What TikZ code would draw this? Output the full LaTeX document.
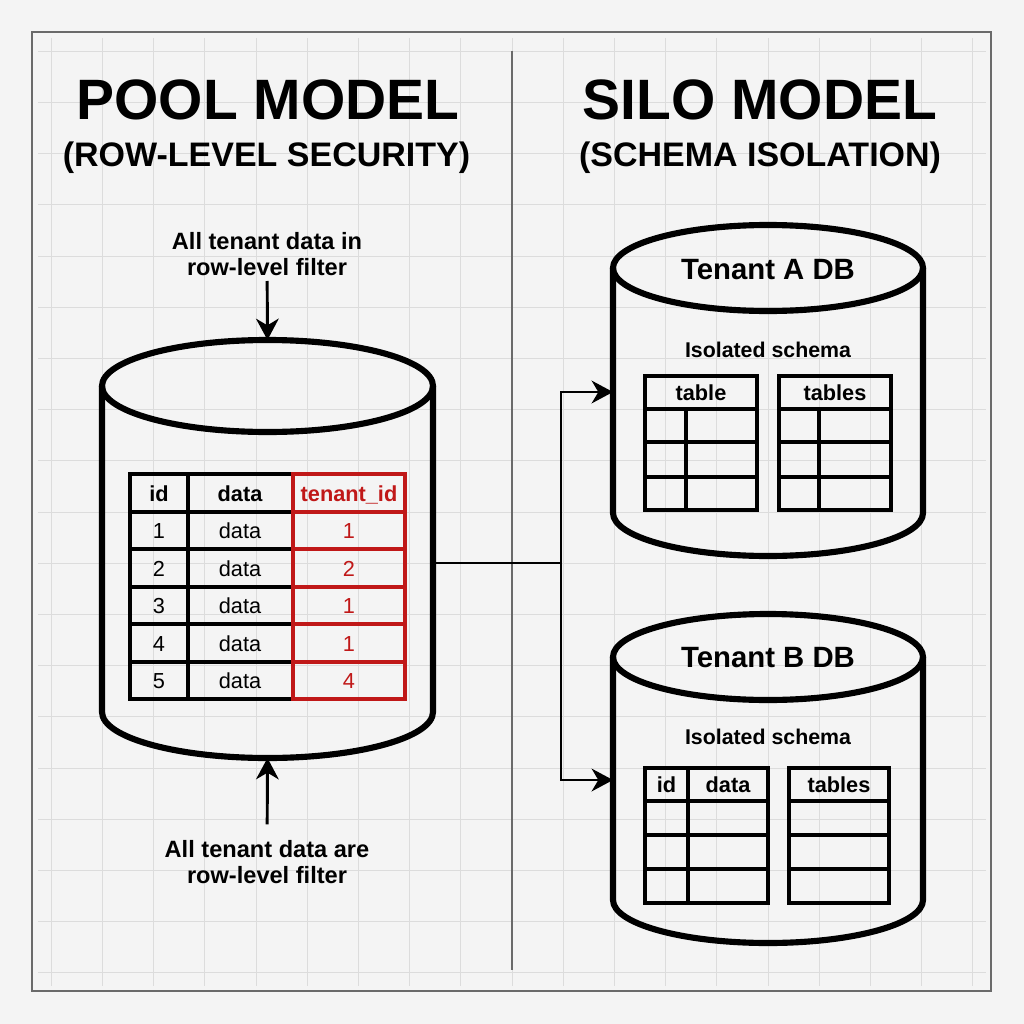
\documentclass[tikz,border=0pt]{standalone}
\usepackage{fontspec}
\setmainfont{Liberation Sans}
\usetikzlibrary{arrows.meta}

\definecolor{paper}{HTML}{F4F4F4}
\definecolor{gridgray}{HTML}{DCDCDC}
\definecolor{framegray}{HTML}{6A6A6A}
\definecolor{tidred}{HTML}{C01818}

\begin{document}
\begin{tikzpicture}[x=0.75pt,y=0.75pt,yscale=-1,xscale=1,
  gridline/.style={draw=gridgray,line width=0.7pt},
  can/.style={line width=4.6pt,line join=round},
  tbl/.style={line width=2.3pt},
  tblb/.style={line width=2.6pt},
  link/.style={line width=2.2pt},
  tip/.style={-{Stealth[length=16pt,width=17pt,inset=5pt]}},
  txt/.style={inner sep=0pt,outer sep=0pt},
  title/.style={txt,anchor=base,font=\fontsize{42.7}{50}\selectfont\bfseries},
  subtitle/.style={txt,anchor=base,font=\fontsize{25.5}{30}\selectfont\bfseries},
  note/.style={txt,align=center,font=\fontsize{17.7}{19.5}\selectfont\bfseries},
  dbname/.style={txt,font=\fontsize{22}{26}\selectfont\bfseries},
  schema/.style={txt,font=\fontsize{16}{19}\selectfont\bfseries},
  hdr/.style={txt,anchor=base,font=\fontsize{16.3}{19}\selectfont\bfseries},
  cell/.style={txt,anchor=base,font=\fontsize{16.3}{19}\selectfont}
]
%set diagram page to 1024 x 1024
\useasboundingbox[fill=paper] (0,0) rectangle (1024,1024);

%Grid
\foreach \g in {1,...,19} {
  \draw[gridline] (\g*51.2,38) -- (\g*51.2,986);
  \draw[gridline] (38,\g*51.2) -- (986,\g*51.2);
}
%Frame and divider
\draw[framegray,line width=1.2pt] (32,32) rectangle (991,991);
\draw[framegray,line width=1.5pt] (512,51) -- (512,970);

% Text Node
\node[title] (pool-title) at (268,119) {POOL MODEL};
\node[subtitle] (pool-sub) at (266.5,166) {(ROW-LEVEL SECURITY)};
\node[title] (silo-title) at (760,119) {SILO MODEL};
\node[subtitle] (silo-sub) at (760,166) {(SCHEMA ISOLATION)};

%Shape: Can [pool]
\draw[can] (267.5,386) ellipse [x radius=165.5,y radius=46];
\draw[can] (102,386) -- (102,712) arc [start angle=180,end angle=0,x radius=165.5,y radius=46] -- (433,386);
\coordinate (pool-n) at (267.5,340);
\coordinate (pool-s) at (267.5,758);
\coordinate (pool-e) at (433,563);

%Shape: Can [tenant A]
\draw[can] (768,268) ellipse [x radius=155,y radius=43];
\draw[can] (613,268) -- (613,513) arc [start angle=180,end angle=0,x radius=155,y radius=43] -- (923,268);
\coordinate (tena-w) at (613,392);

%Shape: Can [tenant B]
\draw[can] (768,657) ellipse [x radius=155,y radius=43];
\draw[can] (613,657) -- (613,900) arc [start angle=180,end angle=0,x radius=155,y radius=43] -- (923,657);
\coordinate (tenb-w) at (613,780);

%Pool table
\draw[tbl] (130,474) rectangle (293,699);
\draw[tbl] (188,474) -- (188,699);
\foreach \y in {512,549,587,624,662} \draw[tbl] (130,\y) -- (293,\y);
\draw[tbl,tidred] (293,474) rectangle (405,699);
\foreach \y in {512,549,587,624,662} \draw[tbl,tidred] (293,\y) -- (405,\y);
\node[hdr] (h-id) at (159,501) {id};
\node[hdr] (h-data) at (240,501) {data};
\node[hdr,text=tidred] (h-tid) at (349,501) {tenant\_id};
\foreach \n/\t [count=\k] in {1/1,2/2,3/1,4/1,5/4} {
  \node[cell] (c\k-id) at (159,501+37.5*\k) {\n};
  \node[cell] (c\k-data) at (240,501+37.5*\k) {data};
  \node[cell,text=tidred] (c\k-tid) at (349,501+37.5*\k) {\t};
}

%Tenant A tables
\node[dbname] (tena-name) at (768,270) {Tenant A DB};
\node[schema] (tena-schema) at (768,350) {Isolated schema};
\draw[tblb] (645,376) rectangle (757,510);
\draw[tblb] (779,376) rectangle (891,510);
\foreach \y in {409,442,477} {
  \draw[tblb] (645,\y) -- (757,\y);
  \draw[tblb] (779,\y) -- (891,\y);
}
\draw[tblb] (686,409) -- (686,510);
\draw[tblb] (819,409) -- (819,510);
\node[hdr] (tena-t1) at (701,400.5) {table};
\node[hdr] (tena-t2) at (835,400.5) {tables};

%Tenant B tables
\node[dbname] (tenb-name) at (768,658) {Tenant B DB};
\node[schema] (tenb-schema) at (768,737) {Isolated schema};
\draw[tblb] (645,768) rectangle (768,903);
\draw[tblb] (789,768) rectangle (889,903);
\foreach \y in {801,835,869} {
  \draw[tblb] (645,\y) -- (768,\y);
  \draw[tblb] (789,\y) -- (889,\y);
}
\draw[tblb] (688,768) -- (688,903);
\node[hdr] (tenb-id) at (666.5,792.5) {id};
\node[hdr] (tenb-data) at (728,792.5) {data};
\node[hdr] (tenb-t2) at (839,792.5) {tables};

%Notes and arrows
\node[note] (note-top) at (267,254) {All tenant data in\\row-level filter};
\node[note] (note-bot) at (267,862) {All tenant data are\\row-level filter};
\draw[link,tip,shorten <=4pt] (note-top) -- (pool-n);
\draw[link,tip,shorten <=12pt] (note-bot) -- (pool-s);

%Connector to silos
\coordinate (split) at (561,563);
\draw[link] (pool-e) -- (split);
\draw[link,tip] (split) |- (tena-w);
\draw[link,tip] (split) |- (tenb-w);

\end{tikzpicture}
\end{document}
